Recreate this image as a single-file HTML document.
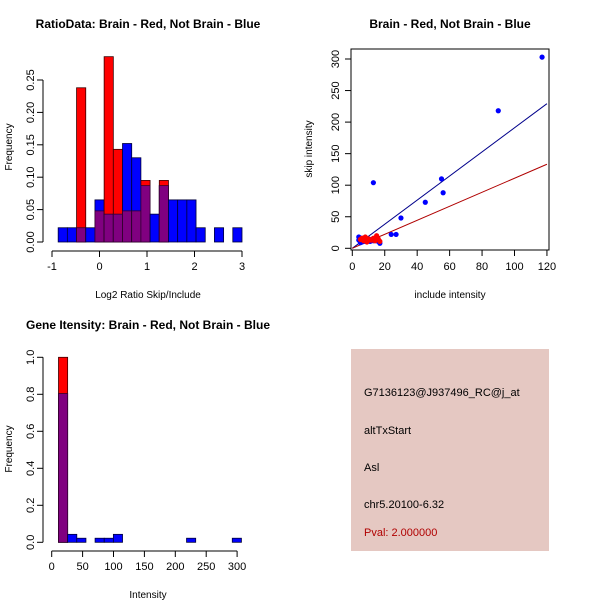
<!DOCTYPE html>
<html><head><meta charset="utf-8"><style>
body{margin:0;background:#fff}
svg text{font-family:"Liberation Sans",sans-serif;fill:#000}
</style></head><body>
<svg id="c" width="600" height="600" xmlns="http://www.w3.org/2000/svg">
<rect width="600" height="600" fill="#fff"/>
<g id="p1"></g>
<g id="p2"></g>
<g id="p3"></g>
<g>
<rect x="351" y="349" width="198" height="202" fill="#e5c8c2"/>
<text x="364" y="396" font-size="11">G7136123@J937496_RC@j_at</text>
<text x="364" y="434" font-size="11">altTxStart</text>
<text x="364" y="471" font-size="11">Asl</text>
<text x="364" y="508" font-size="11">chr5.20100-6.32</text>
<text x="364" y="536" font-size="11" style="fill:#b00000">Pval: 2.000000</text>
</g>
</svg>
<script>
const NS="http://www.w3.org/2000/svg";
// Ratio histogram data
const ratioBinStart=-0.87, ratioBinWidth=0.1935;
const ratioBlue=[0.022,0.022,0.022,0.022,0.065,0.043,0.043,0.152,0.130,0.087,0.043,0.087,0.065,0.065,0.065,0.022,0,0.022,0,0.022];
const ratioRed=[0,0,0.238,0,0.048,0.286,0.143,0.048,0.048,0.095,0,0.095,0,0,0,0,0,0,0,0];
const ratioXTicks=[-1,0,1,2,3];
const ratioYTicks=["0.00","0.05","0.10","0.15","0.20","0.25"];
// Scatter data
const blueX=[117,90,55,56,45,13,30,27,24,14,4,5,6,7,8,9,10,11,12,15,16,17,4,6,8,10,13,5];
const blueY=[303,218,110,88,73,104,48,22,22,15,18,12,10,14,16,12,13,11,14,12,11,8,13,16,11,15,12,9];
const redX=[5,7,8,9,10,12,13,14,15,16,17,6,11];
const redY=[14,12,18,10,15,13,16,12,20,15,11,16,13];
const blueSlope=1.91, redSlope=1.11;
const scatXTicks=[0,20,40,60,80,100,120];
const scatYTicks=[0,50,100,150,200,250,300];
// Intensity histogram data
const intBinStart=11, intBinWidth=14.8;
const intBlue=[0.804,0.043,0.022,0,0.022,0.022,0.043,0,0,0,0,0,0,0,0.022,0,0,0,0,0.022];
const intRed=[1.0,0,0,0,0,0,0,0,0,0,0,0,0,0,0,0,0,0,0,0];
const intXTicks=[0,50,100,150,200,250,300];
const intYTicks=["0.0","0.2","0.4","0.6","0.8","1.0"];

function mk(parent,tag,attrs){const e=document.createElementNS(NS,tag);for(const k in attrs)e.setAttribute(k,attrs[k]);parent.appendChild(e);return e;}
function txt(parent,x,y,s,size,extra){const t=mk(parent,'text',Object.assign({x:x,y:y,'font-size':size},extra||{}));t.textContent=s;return t;}

function hist(g,o){
  const sx=v=>o.x0+(v-o.xmin)*o.xs, sy=v=>o.y0-v*o.ys;
  for(let i=0;i<o.blue.length;i++){
    const a=o.bs+i*o.bw,b=a+o.bw;
    const hb=o.blue[i],hr=o.red[i],m=Math.min(hb,hr);
    if(hb>0){const r=mk(g,'rect',{x:sx(a),y:sy(hb),width:sx(b)-sx(a),height:sy(0)-sy(hb),fill:'#0000ff',stroke:'#00003a','stroke-width':0.8});
      
      }
    if(hr>0){const r=mk(g,'rect',{x:sx(a),y:sy(hr),width:sx(b)-sx(a),height:sy(0)-sy(hr),fill:'#ff0000',stroke:'#3a0000','stroke-width':0.8});
      
      }
    if(m>0){const r=mk(g,'rect',{x:sx(a),y:sy(m),width:sx(b)-sx(a),height:sy(0)-sy(m),fill:'#800080',stroke:'#300030','stroke-width':0.8});
      
      }
  }
  const xv=o.xt;
  mk(g,'line',{x1:sx(xv[0]),x2:sx(xv[xv.length-1]),y1:o.axY,y2:o.axY,stroke:'#000'});
  xv.forEach(v=>{mk(g,'line',{x1:sx(v),x2:sx(v),y1:o.axY,y2:o.axY+6,stroke:'#000'});
    const t=txt(g,sx(v),o.axY+19,String(v),11,{'text-anchor':'middle'});
    
    });
  const yv=o.yt;
  mk(g,'line',{x1:o.axX,x2:o.axX,y1:sy(+yv[0]),y2:sy(+yv[yv.length-1]),stroke:'#000'});
  yv.forEach(v=>{const y=sy(+v);mk(g,'line',{x1:o.axX-6,x2:o.axX,y1:y,y2:y,stroke:'#000'});
    const lx=o.axX-9;
    const t=txt(g,lx,y,v,11,{'text-anchor':'middle',transform:`rotate(-90 ${lx} ${y})`});
    
    });
  const tt=txt(g,o.tx,o.ty,o.title,12,{'font-weight':'bold','text-anchor':'middle'});
  
  
  const xl=txt(g,o.xlx,o.xly,o.xlab,10,{'text-anchor':'middle'});
  
  
  const yl=txt(g,12,o.yly,'Frequency',10,{'text-anchor':'middle',transform:`rotate(-90 12 ${o.yly})`});
  
  
}

hist(document.getElementById('p1'),{blue:ratioBlue,red:ratioRed,bs:ratioBinStart,bw:ratioBinWidth,
  xmin:-1,x0:52,xs:47.5,y0:242,ys:648,xt:ratioXTicks,yt:ratioYTicks,axY:251,axX:43,
  title:'RatioData: Brain - Red, Not Brain - Blue',tx:148,ty:28,xlab:'Log2 Ratio Skip/Include',xlx:148,xly:298,yly:147});
hist(document.getElementById('p3'),{blue:intBlue,red:intRed,bs:intBinStart,bw:intBinWidth,
  xmin:0,x0:51.7,xs:0.618,y0:542.3,ys:185,xt:intXTicks,yt:intYTicks,axY:551,axX:43,
  title:'Gene Itensity: Brain - Red, Not Brain - Blue',tx:148,ty:329,xlab:'Intensity',xlx:148,xly:598,yly:449});

(function(){
  const g=document.getElementById('p2');
  const sx=v=>352.3+v*1.622, sy=v=>248.3-v*0.631;
  mk(g,'rect',{x:351,y:49,width:198,height:201,fill:'none',stroke:'#000'});
  const bl=mk(g,'line',{x1:sx(0),y1:sy(0),x2:sx(120),y2:sy(120*blueSlope),stroke:'#00008b'});
  
  
  const rl=mk(g,'line',{x1:sx(0),y1:sy(0),x2:sx(120),y2:sy(120*redSlope),stroke:'#b00000'});
  
  
  blueX.forEach((x,i)=>{const c=mk(g,'circle',{cx:sx(x),cy:sy(blueY[i]),r:2.6,fill:'#0000ff'});
    
    });
  redX.forEach((x,i)=>{const c=mk(g,'circle',{cx:sx(x),cy:sy(redY[i]),r:2.6,fill:'#ff0000'});
    
    });
  scatXTicks.forEach(v=>{mk(g,'line',{x1:sx(v),x2:sx(v),y1:250,y2:256,stroke:'#000'});
    const t=txt(g,sx(v),270,String(v),11,{'text-anchor':'middle'});
    
    });
  scatYTicks.forEach(v=>{const y=sy(v);mk(g,'line',{x1:345,x2:351,y1:y,y2:y,stroke:'#000'});
    const t=txt(g,339,y,String(v),11,{'text-anchor':'middle',transform:`rotate(-90 339 ${y})`});
    
    });
  const tt=txt(g,450,28,'Brain - Red, Not Brain - Blue',12,{'font-weight':'bold','text-anchor':'middle'});
  
  
  const xl=txt(g,450,298,'include intensity',10,{'text-anchor':'middle'});
  
  
  const yl=txt(g,312,149,'skip intensity',10,{'text-anchor':'middle',transform:'rotate(-90 312 149)'});
  
  
})();
</script>
</body></html>
